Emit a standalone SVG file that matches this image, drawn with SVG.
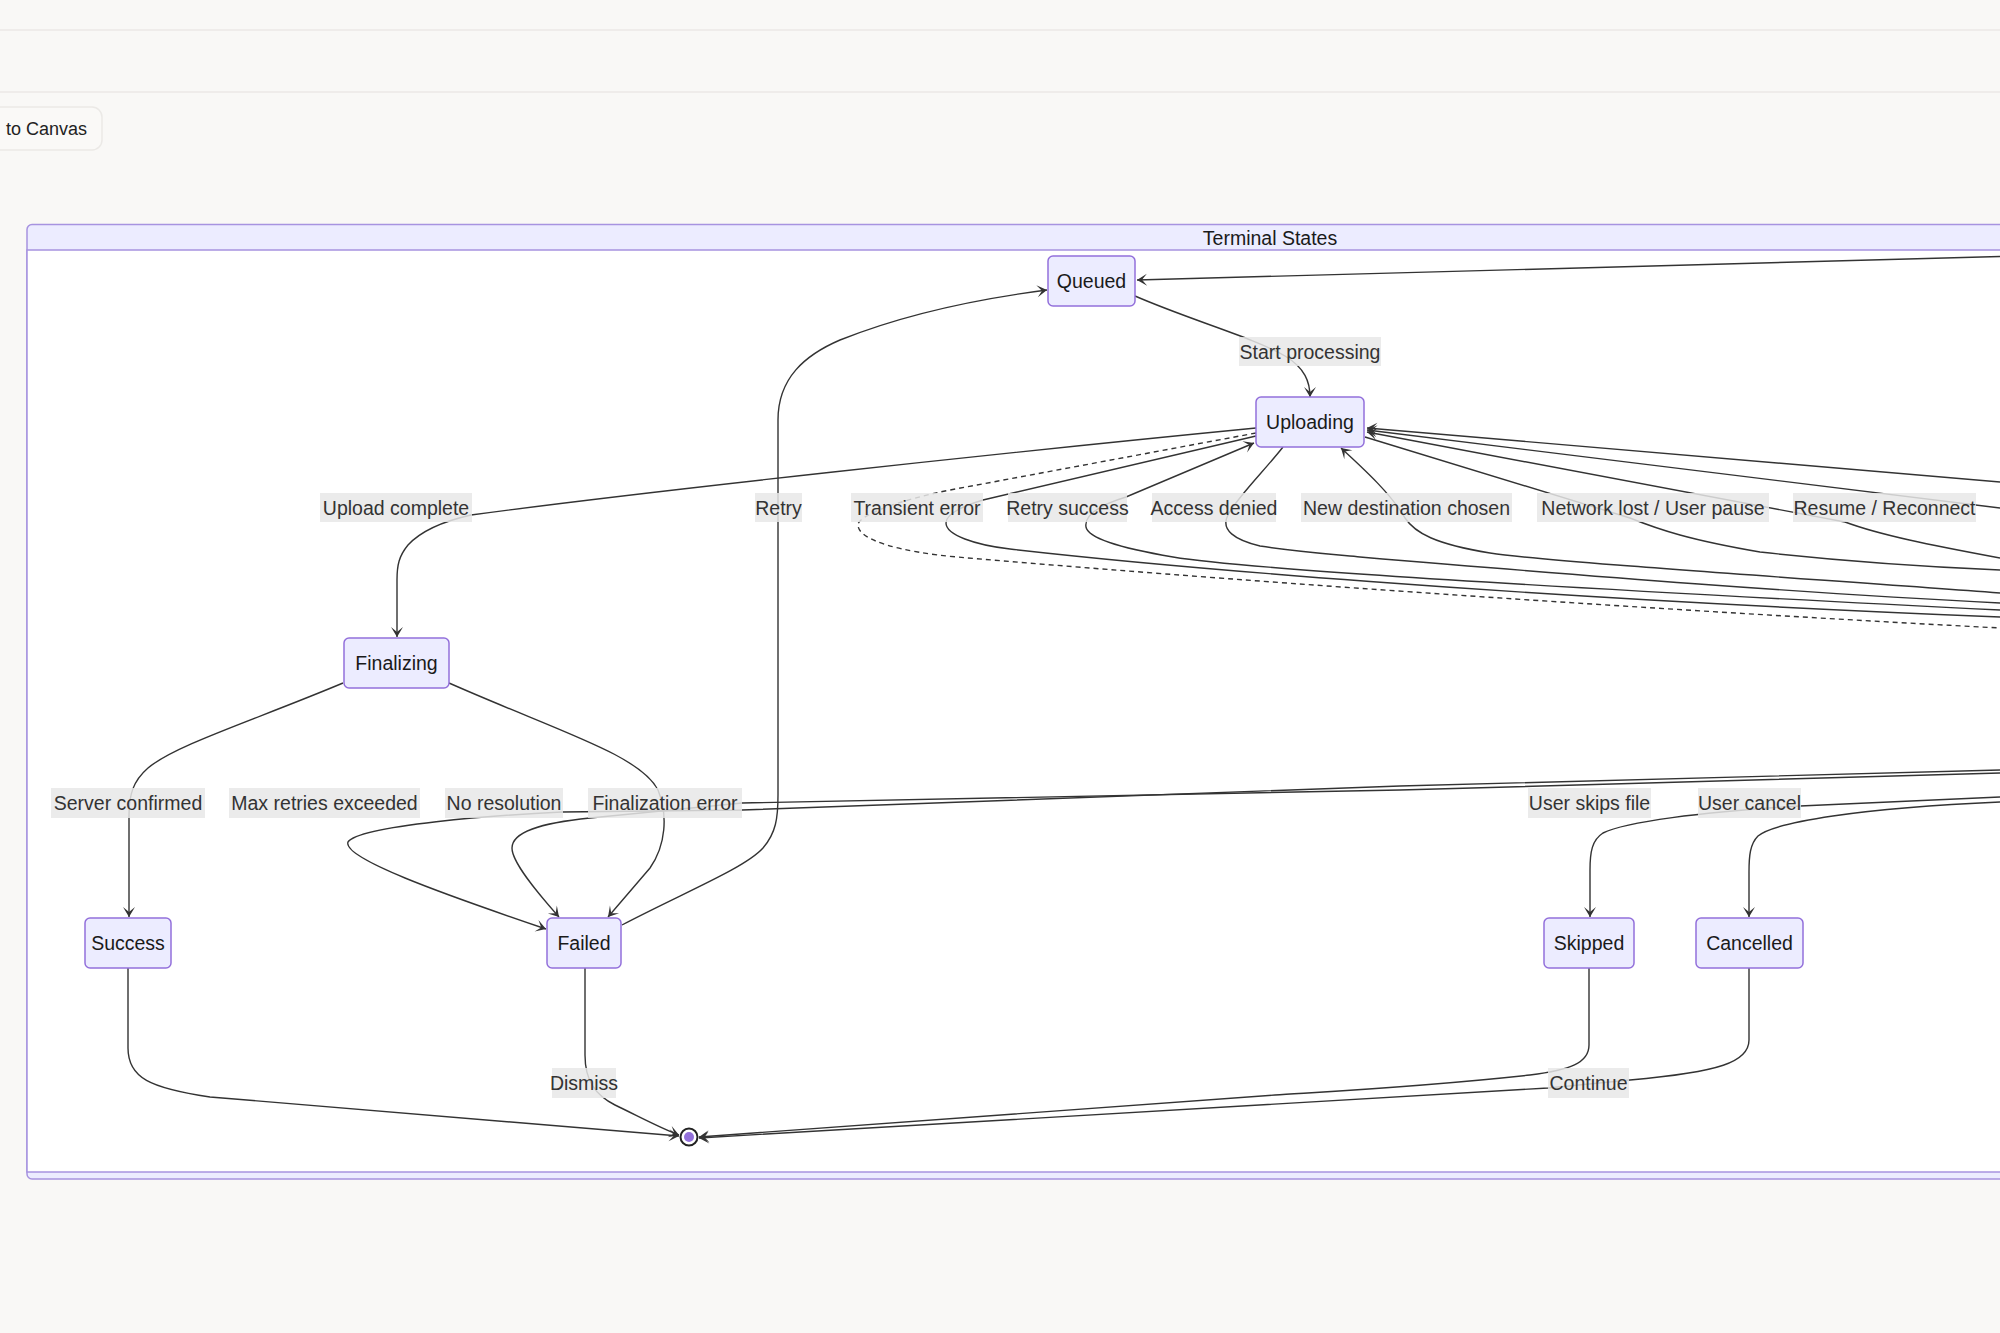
<svg xmlns="http://www.w3.org/2000/svg" width="2000" height="1333" viewBox="0 0 2000 1333">
<defs>
<marker id="arr" viewBox="0 0 20 14" refX="19" refY="7" markerWidth="20" markerHeight="14" orient="auto" markerUnits="userSpaceOnUse"><path d="M19,7 L9,13 L14,7 L9,1 Z" fill="#333"/></marker>
<style>
.node rect{fill:#ececff;stroke:#9370db;stroke-width:1.5}
.node text{font-family:"Liberation Sans",Arial,sans-serif;font-size:19.5px;fill:#1a1a1a;text-anchor:middle;dominant-baseline:central}
.edge{fill:none;stroke:#333;stroke-width:1.4}
.arrow{marker-end:url(#arr)}
.dash{stroke-dasharray:5,4}
.lbl rect{fill:#e8e8e8;fill-opacity:0.85}
.lbl text{font-family:"Liberation Sans",Arial,sans-serif;font-size:19.5px;fill:#333;text-anchor:middle;dominant-baseline:central}
</style>
</defs>
<rect x="0" y="0" width="2000" height="1333" fill="#f9f8f6"/>
<line x1="0" y1="30" x2="2000" y2="30" stroke="#ebe9e6" stroke-width="1.5"/>
<line x1="0" y1="92" x2="2000" y2="92" stroke="#ebe9e6" stroke-width="1.5"/>
<g id="back-button">
<rect x="-15" y="107" width="117" height="43" rx="10" fill="#faf9f7" stroke="#ebe9e6" stroke-width="1.5"/>
<text x="6" y="129" font-family="Liberation Sans,Arial,sans-serif" font-size="18" fill="#222" dominant-baseline="central">to Canvas</text>
</g>
<g id="cluster-terminal-states">
<rect x="27" y="224.5" width="2200" height="954.5" rx="5" fill="#ececff" stroke="#a793e0" stroke-width="1.5"/>
<rect x="27" y="250" width="2200" height="922" fill="#ffffff" stroke="#a793e0" stroke-width="1.5"/>
<text x="1270" y="237.5" font-family="Liberation Sans,Arial,sans-serif" font-size="19.5" fill="#1a1a1a" text-anchor="middle" dominant-baseline="central">Terminal States</text>
</g>
<g id="connectors">
<path class="edge arrow" d="M2000,256.5 L1137,280"/>
<path class="edge arrow" d="M1135,296 C1190,320 1255,338 1285,356 C1305,368 1310,382 1310,397"/>
<path class="edge arrow" d="M1256,428 C1000,453 640,492 471,515 C440,522 420,532 408,545 C399,556 397,565 397,580 L397,637"/>
<path class="edge arrow" d="M343,683 C255,720 175,745 148,768 C133,781 129,795 129,815 L129,917"/>
<path class="edge arrow" d="M449,683 C560,732 640,755 658,790 C668,815 666,845 650,868 L608,917"/>
<path class="edge arrow" d="M2000,770 L1400,786 L742,810 L562,812 C500,815 360,825 348,842 C342,858 440,893 546,929"/>
<path class="edge arrow" d="M2000,773 L1400,790 L742,803 L590,818 C540,823 512,832 512,848 C512,862 535,890 559,917"/>
<path class="edge arrow" d="M622,925 C685,892 745,868 763,848 C776,833 778,818 778,795 L778,420 C778,378 805,355 840,340 C910,312 985,298 1047,290"/>
<path class="edge arrow" d="M585,968 L585,1055 C585,1080 595,1095 615,1105 C640,1117 660,1128 679,1135"/>
<path class="edge arrow" d="M128,968 L128,1048 C128,1078 150,1088 210,1097 L679,1136"/>
<path class="edge arrow" d="M1589,968 L1589,1045 C1589,1063 1570,1070 1530,1075 C1420,1087 1320,1092 1275,1095 L699,1137"/>
<path class="edge arrow" d="M1749,968 L1749,1040 C1749,1062 1720,1072 1630,1080 L1548,1088 L699,1138"/>
<path class="edge arrow" d="M2000,797 L1800,806 C1700,812 1625,822 1603,833 C1592,840 1590,852 1590,870 L1590,917"/>
<path class="edge arrow" d="M2000,802 C1860,808 1775,822 1758,836 C1750,844 1749,856 1749,872 L1749,917"/>
<path class="edge" d="M1256,436 L983,500 C960,507 946,515 946,523 C946,535 975,545 1010,549 C1150,565 1500,597 2000,617"/>
<path class="edge dash" d="M1256,433 L950,490 C900,500 858,515 858,525 C858,540 900,552 957,557 C1200,578 1600,607 2000,628"/>
<path class="edge arrow" d="M2000,610 C1600,590 1250,570 1173,557 C1120,548 1088,538 1086,527 C1084,515 1100,505 1126,497 L1254,443"/>
<path class="edge" d="M1283,447 C1265,470 1235,500 1228,515 C1220,530 1235,540 1260,546 C1300,552 1340,555 1360,557 C1600,577 1800,593 2000,603"/>
<path class="edge arrow" d="M2000,593 C1800,578 1550,562 1490,553 C1435,544 1415,533 1405,518 C1392,495 1365,470 1341,448"/>
<path class="edge" d="M1365,437 L1630,518 C1660,530 1690,540 1760,552 C1850,562 1930,567 2000,570"/>
<path class="edge arrow" d="M2000,558 C1930,545 1880,535 1845,522 L1367,432"/>
<path class="edge arrow" d="M2000,482 L1367,428"/>
<path class="edge arrow" d="M2000,508 L1367,430"/>
</g>
<g id="edge-labels">
<g class="lbl"><rect x="1239" y="337" width="142" height="29"/><text x="1310" y="351.5">Start processing</text></g>
<g class="lbl"><rect x="320" y="493" width="152" height="29"/><text x="396" y="507.5">Upload complete</text></g>
<g class="lbl"><rect x="755" y="493" width="47" height="29"/><text x="778.5" y="507.5">Retry</text></g>
<g class="lbl"><rect x="851" y="493" width="132" height="29"/><text x="917" y="507.5">Transient error</text></g>
<g class="lbl"><rect x="1008" y="493" width="119" height="29"/><text x="1067.5" y="507.5">Retry success</text></g>
<g class="lbl"><rect x="1152" y="493" width="124" height="29"/><text x="1214" y="507.5">Access denied</text></g>
<g class="lbl"><rect x="1301" y="493" width="211" height="29"/><text x="1406.5" y="507.5">New destination chosen</text></g>
<g class="lbl"><rect x="1537" y="493" width="232" height="29"/><text x="1653" y="507.5">Network lost / User pause</text></g>
<g class="lbl"><rect x="1793" y="493" width="183" height="29"/><text x="1884.5" y="507.5">Resume / Reconnect</text></g>
<g class="lbl"><rect x="51" y="788" width="154" height="30"/><text x="128" y="803">Server confirmed</text></g>
<g class="lbl"><rect x="229" y="788" width="191" height="30"/><text x="324.5" y="803">Max retries exceeded</text></g>
<g class="lbl"><rect x="445" y="788" width="118" height="30"/><text x="504" y="803">No resolution</text></g>
<g class="lbl"><rect x="588" y="788" width="154" height="30"/><text x="665" y="803">Finalization error</text></g>
<g class="lbl"><rect x="1528" y="788" width="123" height="30"/><text x="1589.5" y="803">User skips file</text></g>
<g class="lbl"><rect x="1698" y="788" width="103" height="30"/><text x="1749.5" y="803">User cancel</text></g>
<g class="lbl"><rect x="552" y="1068" width="64" height="30"/><text x="584" y="1083">Dismiss</text></g>
<g class="lbl"><rect x="1548" y="1068" width="81" height="30"/><text x="1588.5" y="1083">Continue</text></g>
</g>
<g id="node-queued" class="node"><rect x="1048" y="256" width="87" height="50" rx="5"/><text x="1091.5" y="281">Queued</text></g>
<g id="node-uploading" class="node"><rect x="1256" y="397" width="108" height="50" rx="5"/><text x="1310" y="422">Uploading</text></g>
<g id="node-finalizing" class="node"><rect x="344" y="638" width="105" height="50" rx="5"/><text x="396.5" y="663">Finalizing</text></g>
<g id="node-success" class="node"><rect x="85" y="918" width="86" height="50" rx="5"/><text x="128" y="943">Success</text></g>
<g id="node-failed" class="node"><rect x="547" y="918" width="74" height="50" rx="5"/><text x="584" y="943">Failed</text></g>
<g id="node-skipped" class="node"><rect x="1544" y="918" width="90" height="50" rx="5"/><text x="1589" y="943">Skipped</text></g>
<g id="node-cancelled" class="node"><rect x="1696" y="918" width="107" height="50" rx="5"/><text x="1749.5" y="943">Cancelled</text></g>
<g id="node-end">
<circle cx="689" cy="1137" r="8.5" fill="#ffffff" stroke="#222" stroke-width="2"/>
<circle cx="689" cy="1137" r="5" fill="#9370db"/>
</g>
</svg>
